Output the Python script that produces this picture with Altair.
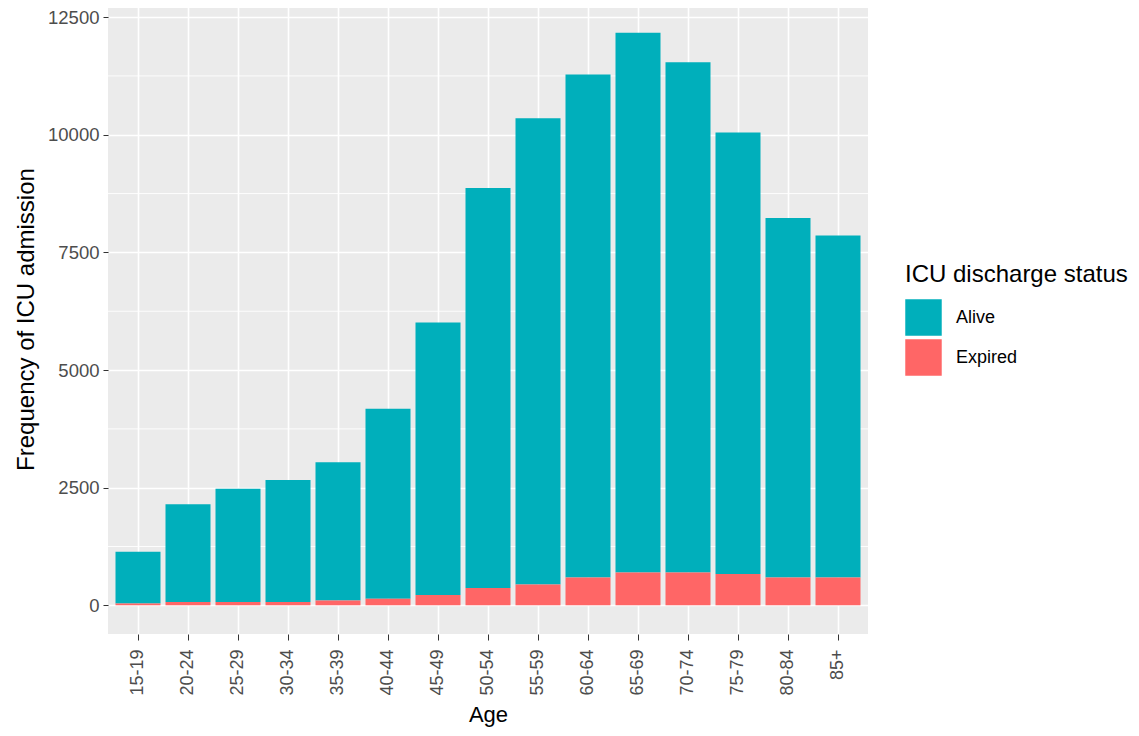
import altair as alt
import pandas as pd

ages = ["15-19", "20-24", "25-29", "30-34", "35-39", "40-44", "45-49", "50-54",
        "55-59", "60-64", "65-69", "70-74", "75-79", "80-84", "85+"]
totals = [1140, 2150, 2480, 2665, 3040, 4180, 6010, 8870,
          10350, 11280, 12170, 11540, 10050, 8230, 7860]
expired = [40, 70, 70, 70, 105, 140, 220, 370,
           445, 590, 700, 700, 665, 590, 590]
statuses = ["Alive", "Expired"]
colors = ["#00AFBB", "#FF6666"]
y_major = [0, 2500, 5000, 7500, 10000, 12500]
y_minor = [1250, 3750, 6250, 8750, 11250]

rows = []
for a, t, e in zip(ages, totals, expired):
    rows.append({"age": a, "status": "Alive", "count": t - e, "ord": 1})
    rows.append({"age": a, "status": "Expired", "count": e, "ord": 0})
df = pd.DataFrame(rows)
minor_df = pd.DataFrame({"v": y_minor})

FONT = "Liberation Sans"
ymax = max(totals)
yscale = alt.Scale(domain=[-0.05 * ymax, ymax * 1.05], nice=False, zero=False)
yaxis = alt.Axis(values=y_major, format="d", grid=True, gridColor="white", gridWidth=1.6,
                 domain=False, tickColor="#333333", tickSize=5, labelPadding=4,
                 labelFontSize=18.5, labelColor="#4D4D4D", labelFont=FONT,
                 title="Frequency of ICU admission", titleFontSize=24,
                 titleFontWeight="normal", titleColor="black", titleFont=FONT,
                 titlePadding=9)

minor = alt.Chart(minor_df).mark_rule(color="white", strokeWidth=0.9).encode(
    y=alt.Y("v:Q", scale=yscale, axis=yaxis)
)

bars = alt.Chart(df).mark_bar().encode(
    x=alt.X("age:N", sort=ages, scale=alt.Scale(paddingInner=0.1, paddingOuter=0.15),
            axis=alt.Axis(title="Age", labelAngle=-90, grid=True, gridColor="white",
                          gridWidth=1.6, domain=False, bandPosition=0.5,
                          tickColor="#333333", tickSize=6, labelPadding=9,
                          labelFontSize=18, labelColor="#4D4D4D", labelFont=FONT,
                          titleFontSize=22, titleFontWeight="normal",
                          titleColor="black", titleFont=FONT, titlePadding=9)),
    y=alt.Y("count:Q", stack="zero", scale=yscale, axis=yaxis),
    color=alt.Color("status:N", scale=alt.Scale(domain=statuses, range=colors),
                    legend=alt.Legend(orient="none", legendX=797, legendY=259,
                                      title="ICU discharge status", titleFontSize=24,
                                      titleFontWeight="normal", titleColor="black",
                                      titleFont=FONT, titlePadding=12, titleLimit=400,
                                      labelFontSize=18, labelColor="black",
                                      labelFont=FONT, symbolType="square",
                                      symbolSize=1330, symbolStrokeWidth=0,
                                      symbolOpacity=1, labelOffset=14,
                                      rowPadding=3)),
    order=alt.Order("ord:Q"),
)

chart = alt.layer(minor, bars).properties(
    width=760, height=630,
    autosize=alt.AutoSizeParams(type="none"),
    padding={"left": 100, "top": -4, "right": 263, "bottom": 102},
).configure_view(fill="#EBEBEB", strokeWidth=0)

chart.save("out.html", embed_options={"renderer": "svg", "actions": False})
